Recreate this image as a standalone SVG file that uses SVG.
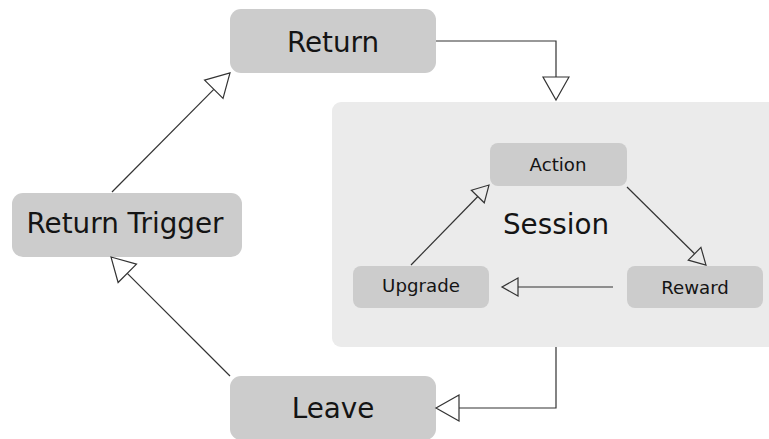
<svg xmlns="http://www.w3.org/2000/svg" width="769" height="439" viewBox="0 0 769 439">
  <style>
    .node { fill: #cccccc; }
    .label { font-family: "DejaVu Sans", Verdana, sans-serif; fill: #141414; text-anchor: middle; }
    .big { font-size: 27.8px; }
    .small { font-size: 18.2px; }
    .edge { fill: none; stroke: #333333; stroke-width: 1.2; }
  </style>
  <defs>
    <!-- open triangular heads; line ends at the base, tip extends forward -->
    <marker id="headLarge" markerUnits="userSpaceOnUse" markerWidth="26" markerHeight="30" refX="1" refY="14" orient="auto" overflow="visible">
      <path d="M1,1 L24,14 L1,27 Z" fill="none" stroke="#333333" stroke-width="1.2"/>
    </marker>
    <marker id="headSmall" markerUnits="userSpaceOnUse" markerWidth="20" markerHeight="22" refX="1" refY="10" orient="auto" overflow="visible">
      <path d="M1,1 L17,10 L1,19 Z" fill="none" stroke="#333333" stroke-width="1.2"/>
    </marker>
  </defs>

  <g id="session">
    <rect x="332" y="102" width="450" height="245" rx="9" fill="#ebebeb"/>
    <text class="label big" x="556" y="234">Session</text>
  </g>

  <g id="return">
    <rect class="node" x="230" y="9" width="206" height="64" rx="11"/>
    <text class="label big" x="333" y="52">Return</text>
  </g>

  <g id="return-trigger">
    <rect class="node" x="12" y="193" width="230" height="64" rx="11"/>
    <text class="label big" x="125" y="233">Return Trigger</text>
  </g>

  <g id="leave">
    <rect class="node" x="230" y="376" width="206" height="64" rx="11"/>
    <text class="label big" x="333" y="418">Leave</text>
  </g>

  <g id="action">
    <rect class="node" x="490" y="143" width="137" height="43" rx="8"/>
    <text class="label small" x="558" y="171">Action</text>
  </g>

  <g id="upgrade">
    <rect class="node" x="353" y="266" width="136" height="42" rx="8"/>
    <text class="label small" x="421" y="292">Upgrade</text>
  </g>

  <g id="reward">
    <rect class="node" x="627" y="266" width="136" height="42" rx="8"/>
    <text class="label small" x="695" y="294">Reward</text>
  </g>

  <g id="connectors">
    <path class="edge" d="M436,41 H556 V77" marker-end="url(#headLarge)"/>
    <path class="edge" d="M556,347 V408 H459" marker-end="url(#headLarge)"/>
    <path class="edge" d="M230,376 L127.3,273.3" marker-end="url(#headLarge)"/>
    <path class="edge" d="M112,192 L213.8,89.3" marker-end="url(#headLarge)"/>
    <path class="edge" d="M627,187 L694.6,253.8" marker-end="url(#headSmall)"/>
    <path class="edge" d="M411,265 L477.8,196.5" marker-end="url(#headSmall)"/>
    <path class="edge" d="M613,287 L518,287" marker-end="url(#headSmall)"/>
  </g>
</svg>
